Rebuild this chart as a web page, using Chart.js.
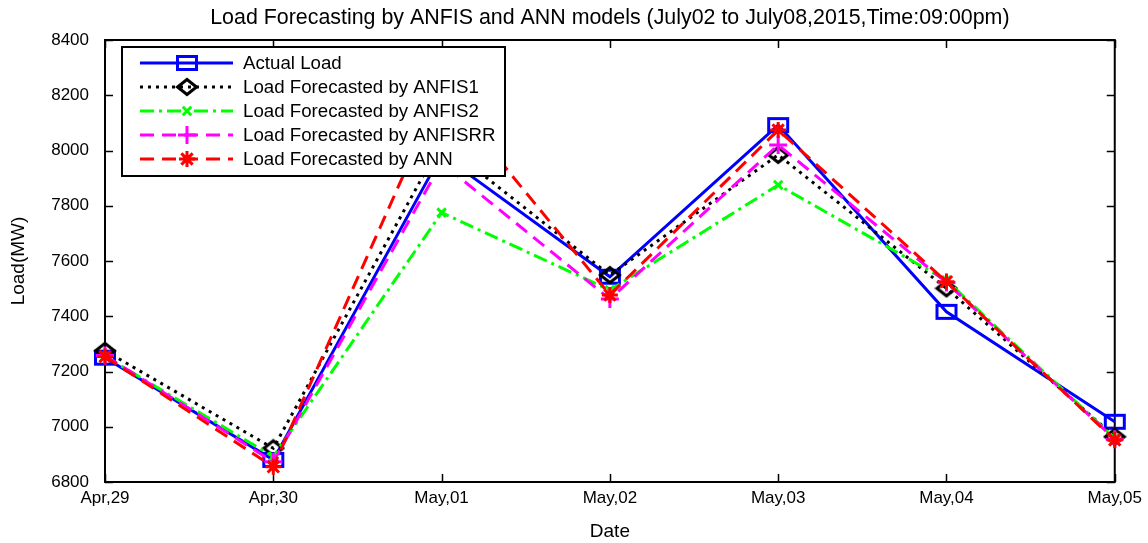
<!DOCTYPE html>
<html>
<head>
<meta charset="utf-8">
<script src="https://cdn.jsdelivr.net/npm/chart.js@4.4.1/dist/chart.umd.min.js"></script>
<style>
  html, body { margin: 0; padding: 0; background: #fff; }
  canvas { display: block; }
</style>
</head>
<body>
<canvas id="loadChart" width="1148" height="543"></canvas>
<script>
// Daily load at 21:00 and the forecasts of each model (MW)
const dates = ['Apr,29', 'Apr,30', 'May,01', 'May,02', 'May,03', 'May,04', 'May,05'];
const actualLoad = [7250, 6880, 7985, 7543, 8092, 7416, 7018];
const anfis1Load = [7275, 6922, 8030, 7549, 7984, 7501, 6964];
const anfis2Load = [7255, 6892, 7775, 7495, 7875, 7530, 6958];
const anfisrrLoad = [7258, 6873, 7955, 7462, 8020, 7522, 6955];
const annLoad = [7254, 6855, 8220, 7477, 8074, 7525, 6952];
const loadTicks = [6800, 7000, 7200, 7400, 7600, 7800, 8000, 8200, 8400];

const seriesNames = [
  'Actual Load',
  'Load Forecasted by ANFIS1',
  'Load Forecasted by ANFIS2',
  'Load Forecasted by ANFISRR',
  'Load Forecasted by ANN'
];

const TITLE = 'Load Forecasting by ANFIS and ANN models (July02 to July08,2015,Time:09:00pm)';
const FONT = '"Liberation Sans", Arial, Helvetica, sans-serif';

// Open marker glyphs drawn to small canvases so they can be used as point styles
function markerCanvas(w, h, paint) {
  const c = document.createElement('canvas');
  c.width = w; c.height = h;
  paint(c.getContext('2d'), w, h);
  return c;
}
const squareMark = markerCanvas(24, 18, (g, w, h) => {
  g.strokeStyle = '#0000ff'; g.lineWidth = 3;
  g.strokeRect(2.5, 2.5, w - 5, h - 5);
});
const diamondMark = markerCanvas(24, 20, (g, w, h) => {
  g.strokeStyle = '#000000'; g.lineWidth = 3;
  g.beginPath();
  g.moveTo(w / 2, 2.5); g.lineTo(w - 2.5, h / 2);
  g.lineTo(w / 2, h - 2.5); g.lineTo(2.5, h / 2);
  g.closePath(); g.stroke();
});

function series(i, data, color, dash, pointStyle, radius) {
  return {
    label: seriesNames[i],
    data: data,
    borderColor: color,
    backgroundColor: color,
    borderWidth: 3,
    borderDash: dash,
    pointStyle: pointStyle,
    pointRadius: radius,
    pointBorderWidth: 3,
    pointBorderColor: color,
    pointBackgroundColor: color,
    tension: 0,
    clip: false,
    order: 4 - i
  };
}

const datasets = [
  series(0, actualLoad, '#0000ff', [], squareMark, 9),
  series(1, anfis1Load, '#000000', [3, 5], diamondMark, 9),
  series(2, anfis2Load, '#00ff00', [14, 5, 3, 5], 'crossRot', 6),
  series(3, anfisrrLoad, '#ff00ff', [14, 8], 'cross', 9),
  series(4, annLoad, '#ff0000', [14, 8], 'star', 8)
];

// Frame with inward ticks on all four sides, plus title and axis names
const framePlugin = {
  id: 'frame',
  beforeDatasetsDraw(chart) {
    const { ctx, chartArea: a, scales } = chart;
    ctx.save();
    ctx.strokeStyle = '#000';
    ctx.lineWidth = 2;
    ctx.strokeRect(a.left, a.top, a.right - a.left, a.bottom - a.top);
    ctx.lineWidth = 1.5;
    ctx.beginPath();
    loadTicks.forEach(v => {
      const y = Math.round(scales.y.getPixelForValue(v)) + 0.5;
      ctx.moveTo(a.left, y); ctx.lineTo(a.left + 8, y);
      ctx.moveTo(a.right, y); ctx.lineTo(a.right - 8, y);
    });
    dates.forEach((d, i) => {
      const x = Math.round(scales.x.getPixelForValue(i)) + 0.5;
      ctx.moveTo(x, a.bottom); ctx.lineTo(x, a.bottom - 8);
      ctx.moveTo(x, a.top); ctx.lineTo(x, a.top + 8);
    });
    ctx.stroke();

    ctx.fillStyle = '#000';
    ctx.textAlign = 'center';
    ctx.textBaseline = 'middle';
    ctx.font = '21.4px ' + FONT;
    ctx.fillText(TITLE, (a.left + a.right) / 2, 18);
    ctx.font = '19px ' + FONT;
    ctx.fillText('Date', (a.left + a.right) / 2, 532);
    ctx.translate(19, (a.top + a.bottom) / 2);
    ctx.rotate(-Math.PI / 2);
    ctx.fillText('Load(MW)', 0, 0);
    ctx.restore();
  }
};

function drawLegendMarker(ctx, ds, x, y) {
  const ps = ds.pointStyle;
  if (ps instanceof HTMLCanvasElement) {
    ctx.drawImage(ps, Math.round(x - ps.width / 2), Math.round(y - ps.height / 2));
    return;
  }
  const r = ds.pointRadius;
  ctx.save();
  ctx.setLineDash([]);
  ctx.strokeStyle = ds.borderColor;
  ctx.lineWidth = ds.pointBorderWidth;
  ctx.beginPath();
  if (ps === 'cross' || ps === 'star') {
    ctx.moveTo(x - r, y); ctx.lineTo(x + r, y);
    ctx.moveTo(x, y - r); ctx.lineTo(x, y + r);
  }
  if (ps === 'crossRot' || ps === 'star') {
    const d = r * Math.SQRT1_2;
    ctx.moveTo(x - d, y - d); ctx.lineTo(x + d, y + d);
    ctx.moveTo(x - d, y + d); ctx.lineTo(x + d, y - d);
  }
  ctx.stroke();
  ctx.restore();
}

// Boxed legend in the upper-left corner of the plot
const legendBoxPlugin = {
  id: 'legendBox',
  afterDatasetsDraw(chart) {
    const ctx = chart.ctx;
    const box = { x: 122, y: 47, w: 383, h: 129 };
    ctx.save();
    ctx.fillStyle = '#fff';
    ctx.fillRect(box.x, box.y, box.w, box.h);
    ctx.strokeStyle = '#000';
    ctx.lineWidth = 2;
    ctx.strokeRect(box.x, box.y, box.w, box.h);
    ctx.font = '18.7px ' + FONT;
    ctx.textAlign = 'left';
    ctx.textBaseline = 'middle';
    chart.data.datasets.forEach((ds, i) => {
      const y = 63 + i * 24;
      ctx.save();
      ctx.strokeStyle = ds.borderColor;
      ctx.lineWidth = ds.borderWidth;
      ctx.setLineDash(ds.borderDash);
      ctx.beginPath();
      ctx.moveTo(140, y); ctx.lineTo(233, y);
      ctx.stroke();
      ctx.restore();
      drawLegendMarker(ctx, ds, 187, y);
      ctx.fillStyle = '#000';
      ctx.fillText(ds.label, 243, y + 1);
    });
    ctx.restore();
  }
};

new Chart(document.getElementById('loadChart'), {
  type: 'line',
  data: { labels: dates, datasets: datasets },
  options: {
    responsive: false,
    animation: false,
    devicePixelRatio: 1,
    layout: { padding: { left: 0, right: 32, top: 40, bottom: 0 } },
    plugins: {
      legend: { display: false },
      title: { display: false },
      tooltip: { enabled: false }
    },
    scales: {
      x: {
        type: 'category',
        offset: false,
        grid: { display: false, drawTicks: false },
        border: { display: false },
        ticks: {
          color: '#000',
          font: { family: FONT, size: 17 },
          padding: 6,
          maxRotation: 0,
          autoSkip: false
        },
        afterFit(scale) { scale.height = 61; }
      },
      y: {
        type: 'linear',
        min: 6800,
        max: 8400,
        grid: { display: false, drawTicks: false },
        border: { display: false },
        ticks: {
          stepSize: 200,
          color: '#000',
          font: { family: FONT, size: 17 },
          padding: 16,
          callback: v => String(v)
        },
        afterFit(scale) { scale.width = 105; }
      }
    }
  },
  plugins: [framePlugin, legendBoxPlugin]
});
</script>
</body>
</html>
